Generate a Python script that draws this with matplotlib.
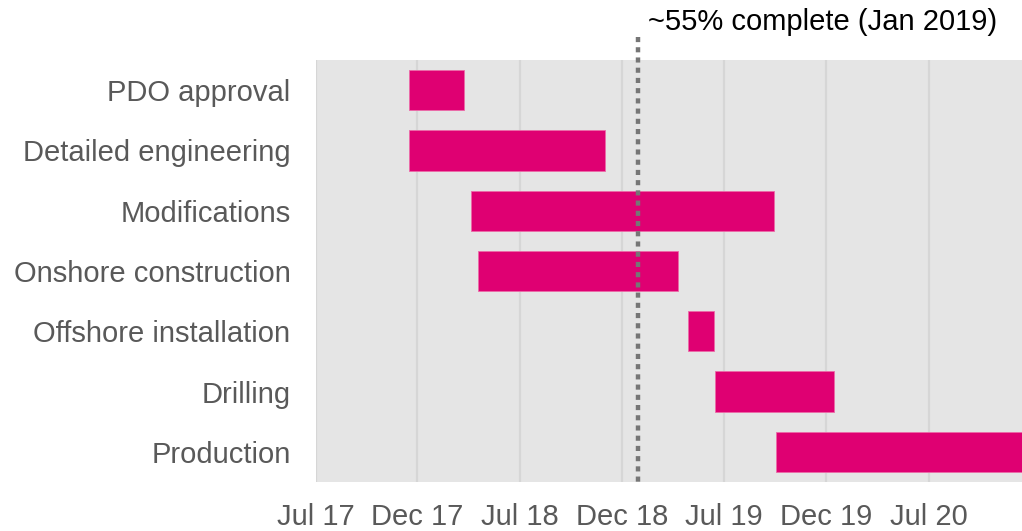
import matplotlib
matplotlib.use("Agg")
import matplotlib.pyplot as plt
import matplotlib.dates as mdates
import pandas as pd

tasks = ["PDO approval", "Detailed engineering", "Modifications", "Onshore construction",
         "Offshore installation", "Drilling", "Production"]
starts = ["2017-12-15", "2017-12-15", "2018-04-05", "2018-04-18", "2019-04-27", "2019-06-14", "2019-10-01"]
ends = ["2018-03-23", "2018-11-30", "2019-09-28", "2019-04-09", "2019-06-13", "2020-01-13", "2020-12-31"]
tick_dates = ["2017-07-01", "2017-12-30", "2018-07-01", "2018-12-30", "2019-07-01", "2019-12-30", "2020-06-30"]
tick_labels = ["Jul 17", "Dec 17", "Jul 18", "Dec 18", "Jul 19", "Dec 19", "Jul 20"]
marker_date = "2019-01-28"
marker_text = "~55% complete (Jan 2019)"
xlim = ["2017-07-01", "2020-12-14"]

plt.rcParams['font.family'] = ['Liberation Sans', 'DejaVu Sans']

fig = plt.figure(figsize=(10.22, 5.31), dpi=100)
ax = fig.add_axes([315.5/1022, 1-482/531, (1022-315.5)/1022, (482-60)/531])
ax.set_facecolor('#e5e5e5')

s = mdates.date2num(pd.to_datetime(starts))
e = mdates.date2num(pd.to_datetime(ends))
y = list(range(len(tasks)))
ax.barh(y, e - s, left=s, height=0.67, color='#df0072', edgecolor='#ec6aa8', linewidth=0.6, zorder=3)

ax.set_ylim(len(tasks) - 0.5, -0.5)
ax.set_yticks(y)
ax.set_yticklabels(tasks)
ax.set_xlim(mdates.date2num(pd.to_datetime(xlim)))
tk = mdates.date2num(pd.to_datetime(tick_dates))
ax.set_xticks(tk)
ax.set_xticklabels(tick_labels)
ax.tick_params(axis='both', length=0, labelsize=21, labelcolor='#595959')
ax.tick_params(axis='y', pad=18)
ax.tick_params(axis='x', pad=15)
for sp in ax.spines.values():
    sp.set_visible(False)
ax.grid(axis='x', color='#d6d6d6', linewidth=1.6, zorder=1)
ax.set_axisbelow(True)

md = mdates.date2num(pd.to_datetime(marker_date))
ax.plot([md, md], [-0.88, 6.55], color='#767676', linewidth=3.2,
        linestyle=(0, (1.15, 1.15)), clip_on=False, zorder=4,
        solid_capstyle='butt', dash_capstyle='butt')
ax.annotate(marker_text, xy=(md, 0), xycoords=('data', 'figure fraction'),
            xytext=(7, 1 - 22/531), textcoords=('offset points', 'figure fraction'),
            fontsize=21, color='black', va='center', ha='left', annotation_clip=False)

fig.savefig("out.png", dpi=100)
